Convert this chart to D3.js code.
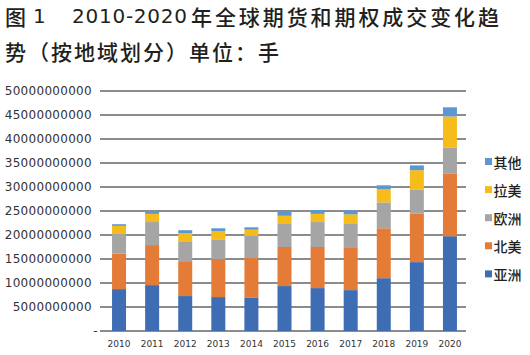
<!DOCTYPE html>
<html><head><meta charset="utf-8">
<script src="https://cdn.jsdelivr.net/npm/d3@7/dist/d3.min.js"></script>
<style>
html,body{margin:0;padding:0;background:#fff;}
svg{display:block;}
</style></head>
<body>
<script>
const years = ["2010","2011","2012","2013","2014","2015","2016","2017","2018","2019","2020"];
const seriesNames = ["亚洲","北美","欧洲","拉美","其他"];
const asia   = [8.73, 9.56, 7.28, 7.07, 6.90, 9.36, 8.94, 8.52, 11.00, 14.35, 19.75];
const namer  = [7.37, 8.34, 7.27, 7.90, 8.30, 8.14, 8.56, 8.78, 10.40, 10.15, 13.10];
const europe = [4.10, 4.80, 4.15, 4.13, 4.60, 4.95, 5.20, 5.00, 5.40, 5.00, 5.40];
const latam  = [1.70, 1.70, 1.70, 1.70, 1.30, 1.55, 1.70, 2.00, 2.70, 4.00, 6.45];
const other  = [0.35, 0.50, 0.60, 0.60, 0.50, 0.80, 0.80, 0.80, 0.85, 1.00, 1.90];
const unit = 1e9;
const yTicks = [0,5e9,1e10,1.5e10,2e10,2.5e10,3e10,3.5e10,4e10,4.5e10,5e10];
const colors = ["#3e6db4","#e47b36","#a5a5a5","#f5bc1c","#5b98d1"];

const W = 530, H = 355;
const svg = d3.select("body").append("svg").attr("width", W).attr("height", H);

// Title
const tcol = "#231f20";
const tfont = "'Noto Sans CJK SC', sans-serif";
const nfont = "'DejaVu Sans', sans-serif";
function tt(txt, x, y, fam, size, weight, len) {
  const t = svg.append("text").attr("x", x).attr("y", y)
    .attr("dominant-baseline", "central")
    .attr("font-family", fam).attr("font-size", size).attr("font-weight", weight)
    .attr("fill", tcol).text(txt);
  if (len) t.attr("textLength", len).attr("lengthAdjust", "spacing");
  return t;
}
tt("图", 5, 15.5, tfont, 21, 500);
tt("1", 33, 16, nfont, 20, 400);
tt("2010-2020", 72, 16, nfont, 20, 400, 115);
tt("年全球期货和期权成交变化趋", 191, 15.5, tfont, 21, 500, 308);
tt("势（按地域划分）单位：手", 5, 50.5, tfont, 21, 500, 274);

// Scales
const x = d3.scaleBand().domain(years).range([102.5, 466.5]).paddingInner(0.577).paddingOuter(0.2885);
const y = d3.scaleLinear().domain([0, 5e10]).range([331, 91]);

// Gridlines
svg.append("g").selectAll("line").data(yTicks).join("line")
  .attr("x1", 100).attr("x2", 466)
  .attr("y1", d => y(d)).attr("y2", d => y(d))
  .attr("stroke", "#8c8c8c").attr("stroke-width", 2);

// Y tick labels
svg.append("g").selectAll("text").data(yTicks).join("text")
  .attr("x", d => d === 0 ? 98 : 92)
  .attr("y", d => y(d))
  .attr("text-anchor", "end").attr("dominant-baseline", "central")
  .attr("font-family", nfont).attr("font-size", 12).attr("letter-spacing", 0.3)
  .attr("fill", "#333")
  .text(d => d === 0 ? "-" : d3.format("d")(d));

// Stack
const rows = years.map((yr, i) => ({year: yr, "亚洲": asia[i]*unit, "北美": namer[i]*unit, "欧洲": europe[i]*unit, "拉美": latam[i]*unit, "其他": other[i]*unit}));
const stacked = d3.stack().keys(seriesNames)(rows);
svg.append("g").selectAll("g").data(stacked).join("g")
  .attr("fill", (d, i) => colors[i])
  .selectAll("rect").data(d => d).join("rect")
  .attr("x", d => x(d.data.year))
  .attr("width", x.bandwidth())
  .attr("y", d => y(d[1]))
  .attr("height", d => y(d[0]) - y(d[1]));

// X labels
svg.append("g").selectAll("text").data(years).join("text")
  .attr("x", d => x(d) + x.bandwidth()/2)
  .attr("y", 343.5)
  .attr("text-anchor", "middle").attr("dominant-baseline", "central")
  .attr("font-family", nfont).attr("font-size", 9)
  .attr("fill", "#333").text(d => d);

// Legend (reverse order, top = 其他)
const legendOrder = seriesNames.map((n, i) => ({name: n, color: colors[i]})).reverse();
const lg = svg.append("g").selectAll("g").data(legendOrder).join("g")
  .attr("transform", (d, i) => `translate(485, ${161.5 + i*28.1})`);
lg.append("rect").attr("x", 0).attr("y", -3.5).attr("width", 7).attr("height", 7).attr("fill", d => d.color);
lg.append("text").attr("x", 8.5).attr("y", 0).attr("dominant-baseline", "central")
  .attr("font-family", tfont).attr("font-size", 14).attr("font-weight", 500)
  .attr("fill", tcol).text(d => d.name);
</script>
</body></html>
